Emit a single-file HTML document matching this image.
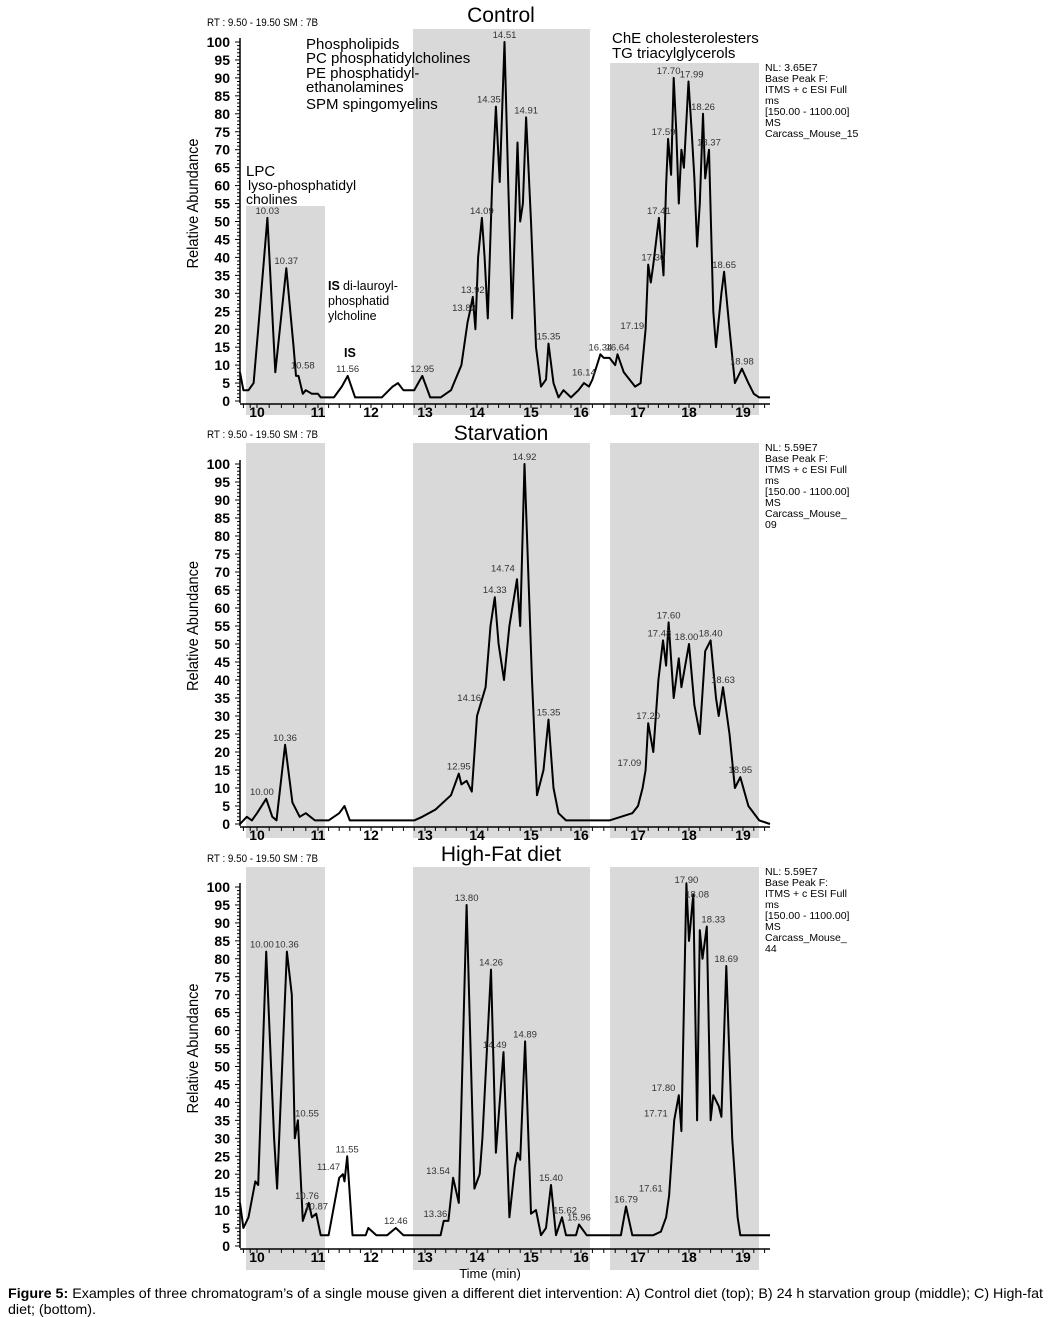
<!DOCTYPE html>
<html><head><meta charset="utf-8"><style>
html,body{margin:0;padding:0;background:#fff;}
svg{display:block;font-family:"Liberation Sans",Arial,sans-serif;}
</style></head><body>
<svg id="c" width="1051" height="1317" viewBox="0 0 1051 1317"></svg>
<script>
// ---------- data ----------
const tickTimes = [10,11,12,13,14,15,16,17,18,19];
const yTickLabels = [0,5,10,15,20,25,30,35,40,45,50,55,60,65,70,75,80,85,90,95,100];
const controlSeries = [[9.5,8],[9.6,3],[9.75,3],[9.9,5],[10.02,20],[10.17,51],[10.3,8],[10.48,37],[10.6,15],[10.64,7],[10.68,7],[10.75,2],[10.8,3],[10.9,2],[11.0,2],[11.05,1],[11.3,1],[11.45,4],[11.56,7],[11.7,1],[12,1],[12.2,1],[12.4,4],[12.5,5],[12.6,3],[12.8,3],[12.95,7],[13.1,1],[13.3,1],[13.5,3],[13.7,10],[13.82,22],[13.85,24],[13.92,29],[13.97,20],[14.02,40],[14.09,51],[14.14,40],[14.2,23],[14.28,60],[14.35,82],[14.42,61],[14.51,100],[14.58,60],[14.65,23],[14.75,72],[14.8,50],[14.85,55],[14.91,79],[15.0,50],[15.1,15],[15.2,4],[15.3,6],[15.35,16],[15.45,5],[15.55,1],[15.65,3],[15.8,1],[15.95,3],[16.05,5],[16.14,4],[16.2,6],[16.34,13],[16.4,12],[16.5,12],[16.6,10],[16.64,13],[16.75,8],[16.85,6],[16.95,4],[17.05,5],[17.15,20],[17.2,38],[17.25,33],[17.3,38],[17.41,51],[17.5,35],[17.55,60],[17.59,73],[17.65,63],[17.7,90],[17.75,75],[17.8,55],[17.85,70],[17.9,65],[17.99,89],[18.05,75],[18.1,62],[18.15,43],[18.2,55],[18.26,80],[18.3,62],[18.37,70],[18.45,25],[18.5,15],[18.6,30],[18.65,36],[18.75,20],[18.85,5],[18.98,9],[19.1,5],[19.2,2],[19.3,1],[19.5,1]];
const starvationSeries = [[9.5,0],[9.7,2],[9.85,1],[10.0,3],[10.15,7],[10.25,2],[10.32,1],[10.46,22],[10.58,6],[10.7,2],[10.8,3],[10.95,1],[11.2,1],[11.4,3],[11.5,5],[11.6,1],[12,1],[12.8,1],[12.95,2],[13.2,4],[13.5,8],[13.65,14],[13.7,11],[13.8,12],[13.9,9],[14.0,30],[14.1,35],[14.16,38],[14.25,55],[14.33,63],[14.4,50],[14.5,40],[14.6,55],[14.74,68],[14.8,55],[14.88,100],[15.02,40],[15.12,8],[15.25,15],[15.35,29],[15.45,10],[15.55,3],[15.7,1],[16,1],[16.5,1],[16.7,2],[16.9,3],[17.0,5],[17.09,10],[17.15,15],[17.2,28],[17.3,20],[17.4,40],[17.49,51],[17.55,44],[17.6,56],[17.7,35],[17.8,46],[17.85,38],[18.0,50],[18.1,33],[18.2,25],[18.3,48],[18.4,51],[18.5,35],[18.55,30],[18.63,38],[18.75,25],[18.85,10],[18.95,13],[19.1,5],[19.3,1],[19.5,0]];
const highFatSeries = [[9.5,12],[9.6,5],[9.75,8],[9.95,18],[10.02,17],[10.15,82],[10.28,30],[10.33,16],[10.49,82],[10.57,70],[10.62,30],[10.67,35],[10.75,7],[10.85,12],[10.9,8],[10.97,9],[11.05,3],[11.2,3],[11.4,19],[11.47,20],[11.5,18],[11.55,25],[11.65,3],[11.9,3],[11.95,5],[12.1,3],[12.3,3],[12.46,5],[12.6,3],[13.3,3],[13.36,7],[13.45,7],[13.54,19],[13.65,12],[13.8,95],[13.95,16],[14.05,20],[14.1,30],[14.26,77],[14.35,26],[14.49,54],[14.6,8],[14.7,22],[14.75,26],[14.8,24],[14.89,57],[15.0,9],[15.1,10],[15.2,3],[15.3,5],[15.4,17],[15.5,3],[15.62,8],[15.7,3],[15.9,3],[15.96,6],[16.1,3],[16.7,3],[16.79,11],[16.9,3],[17.3,3],[17.45,4],[17.55,8],[17.61,14],[17.71,35],[17.8,42],[17.85,32],[17.95,102],[18.0,85],[18.08,98],[18.15,35],[18.2,88],[18.25,80],[18.33,89],[18.4,35],[18.45,42],[18.55,39],[18.6,36],[18.69,78],[18.8,30],[18.9,8],[18.95,3],[19.5,3]];
const controlLabels = [[10.17,51,"10.03"],[10.48,37,"10.37"],[10.75,8,"10.58"],[11.56,7,"11.56"],[12.95,7,"12.95"],[13.75,24,"13.82"],[13.92,29,"13.92"],[14.09,51,"14.09"],[14.22,82,"14.35"],[14.51,100,"14.51"],[14.91,79,"14.91"],[15.35,16,"15.35"],[16.05,6,"16.14"],[16.34,13,"16.34"],[16.64,13,"16.64"],[16.9,19,"17.19"],[17.3,38,"17.30"],[17.41,51,"17.41"],[17.5,73,"17.59"],[17.6,90,"17.70"],[18.05,89,"17.99"],[18.26,80,"18.26"],[18.37,70,"18.37"],[18.65,36,"18.65"],[18.98,9,"18.98"]];
const starvationLabels = [[10.08,7,"10.00"],[10.46,22,"10.36"],[13.65,14,"12.95"],[13.85,33,"14.16"],[14.33,63,"14.33"],[14.48,69,"14.74"],[14.88,100,"14.92"],[15.35,29,"15.35"],[16.85,15,"17.09"],[17.2,28,"17.20"],[17.42,51,"17.48"],[17.6,56,"17.60"],[17.95,50,"18.00"],[18.4,51,"18.40"],[18.63,38,"18.63"],[18.95,13,"18.95"]];
const highFatLabels = [[10.08,82,"10.00"],[10.49,82,"10.36"],[10.82,35,"10.55"],[10.82,12,"10.76"],[10.97,9,"10.87"],[11.2,20,"11.47"],[11.55,25,"11.55"],[12.46,5,"12.46"],[13.2,7,"13.36"],[13.25,19,"13.54"],[13.8,95,"13.80"],[14.26,77,"14.26"],[14.33,54,"14.49"],[14.89,57,"14.89"],[15.4,17,"15.40"],[15.68,8,"15.62"],[15.96,6,"15.96"],[16.79,11,"16.79"],[17.25,14,"17.61"],[17.35,35,"17.71"],[17.5,42,"17.80"],[17.95,102,"17.90"],[18.15,96,"18.08"],[18.45,89,"18.33"],[18.69,78,"18.69"]];

// ---------- axes ----------
const tickPx = [257,318,371,425,477,531,581,638,689,743];
function xScale(t){
  if(t<=tickTimes[0]) return tickPx[0]+(t-tickTimes[0])*34;
  for(let i=0;i<tickTimes.length-1;i++){
    if(t<=tickTimes[i+1]) return tickPx[i]+(t-tickTimes[i])/(tickTimes[i+1]-tickTimes[i])*(tickPx[i+1]-tickPx[i]);
  }
  return tickPx[9]+(t-19)*54;
}
const NS="http://www.w3.org/2000/svg";
const svg=document.getElementById('c');
function mk(tag,attrs,parent){const e=document.createElementNS(NS,tag);for(const k in attrs)e.setAttribute(k,attrs[k]);(parent||svg).appendChild(e);return e;}

const panels=[
 {name:'control',title:'Control',series:controlSeries,labels:controlLabels,y100:42,y0:401,bands:[[246,325,206],[413,590,29],[610,759,63]],bandBot:415,titleY:22,rtY:26,nl:["NL: 3.65E7","Base Peak F:","ITMS + c ESI Full","ms","[150.00 - 1100.00]","MS","Carcass_Mouse_15"],nlY:71},
 {name:'starvation',title:'Starvation',series:starvationSeries,labels:starvationLabels,y100:464,y0:824,bands:[[246,325,443],[413,590,443],[610,759,443]],bandBot:838,titleY:440,rtY:438,nl:["NL: 5.59E7","Base Peak F:","ITMS + c ESI Full","ms","[150.00 - 1100.00]","MS","Carcass_Mouse_","09"],nlY:451},
 {name:'high-fat',title:'High-Fat diet',series:highFatSeries,labels:highFatLabels,y100:887,y0:1246,bands:[[246,325,867],[413,590,867],[610,759,867]],bandBot:1270,titleY:861,rtY:862,nl:["NL: 5.59E7","Base Peak F:","ITMS + c ESI Full","ms","[150.00 - 1100.00]","MS","Carcass_Mouse_","44"],nlY:875}
];

panels.forEach(p=>{
  const g=mk('g',{});
  
  
  const ys=v=>p.y0-(v/100)*(p.y0-p.y100);
  p.bands.forEach((b,i)=>{
    const r=mk('rect',{x:b[0],y:b[2],width:b[1]-b[0],height:p.bandBot-b[2],fill:'#d9d9d9'},g);
    
    
  });
  const t=mk('text',{x:501,y:p.titleY,'font-size':21,'text-anchor':'middle',fill:'#000'},g);
  t.textContent=p.title;
  
  
  const rt=mk('text',{x:207,y:p.rtY,'font-size':11,fill:'#000',textLength:111,lengthAdjust:'spacingAndGlyphs'},g);
  rt.textContent='RT : 9.50 - 19.50 SM : 7B';
  
  
  // y axis
  const ax=mk('line',{x1:240,y1:p.y100-4,x2:240,y2:p.y0+2,stroke:'#000','stroke-width':1.5},g);
  
  
  for(let v=0;v<=100;v+=1){
    const yy=ys(v);
    mk('line',{x1:v%5===0?235:237,y1:yy,x2:240,y2:yy,stroke:'#000','stroke-width':1},g);
  }
  yTickLabels.forEach(v=>{
    const tl=mk('text',{x:230,y:ys(v)+5,'font-size':14,'font-weight':'bold','text-anchor':'end'},g);
    tl.textContent=v;
    
    
  });
  const yt=mk('text',{x:0,y:0,'font-size':16,'text-anchor':'middle',transform:`translate(198,${(p.y0+p.y100)/2-18}) rotate(-90)`,textLength:130,lengthAdjust:'spacingAndGlyphs'},g);
  yt.textContent='Relative Abundance';
  
  
  // x axis
  const xa=mk('line',{x1:240,y1:p.y0+3,x2:770,y2:p.y0+3,stroke:'#000','stroke-width':1.5},g);
  
  
  for(let t2=9.6;t2<=19.45;t2+=0.2){
    const xx=xScale(t2);
    mk('line',{x1:xx,y1:p.y0+3,x2:xx,y2:p.y0+7,stroke:'#000','stroke-width':1},g);
  }
  tickTimes.forEach(tv=>{
    const xt=mk('text',{x:xScale(tv),y:p.y0+16,'font-size':14,'font-weight':'bold','text-anchor':'middle'},g);
    xt.textContent=tv;
    
    
  });
  // trace
  const d=p.series.map((pt,i)=>(i?'L':'M')+xScale(pt[0]).toFixed(1)+','+ys(Math.min(pt[1],101)).toFixed(1)).join(' ');
  const path=mk('path',{d:d,fill:'none',stroke:'#000','stroke-width':2,'stroke-linejoin':'round'},g);
  
  
  // peak labels
  p.labels.forEach(l=>{
    const lt=mk('text',{x:xScale(l[0]),y:ys(Math.min(l[1],100))-4,'font-size':9.5,'text-anchor':'middle',fill:'#333'},g);
    lt.textContent=l[2];
    
    
  });
  // NL info
  p.nl.forEach((s,i)=>{
    const nt=mk('text',{x:765,y:p.nlY+i*11,'font-size':10.5},g);
    nt.textContent=s;
    
    
  });
});

// annotations (control panel)
const annots=[
 [306,49,15,"Phospholipids"],[306,63,15,"PC phosphatidylcholines"],[306,78,15,"PE phosphatidyl-"],[306,92,15,"ethanolamines"],[306,109,15,"SPM spingomyelins"],
 [612,43,15,"ChE cholesterolesters"],[612,58,15,"TG triacylglycerols"],
 [246,176,15,"LPC"],[248,190,14,"lyso-phosphatidyl"],[246,204,14,"cholines"],
 [343,290,12.5,"di-lauroyl-"],[328,305,12.5,"phosphatid"],[328,320,12.5,"ylcholine"]
];
annots.forEach(a=>{
  const e=mk('text',{x:a[0],y:a[1],'font-size':a[2]});
  e.textContent=a[3];
  
  
});
[[328,290,"IS"],[344,357,"IS"]].forEach(a=>{
  const e=mk('text',{x:a[0],y:a[1],'font-size':12.5,'font-weight':'bold'});
  e.textContent=a[2];
  
  
});

const xt=mk('text',{x:490,y:1278,'font-size':13,'text-anchor':'middle'});
xt.textContent='Time (min)';



const cap=mk('text',{x:8,y:1298,'font-size':14,textLength:1035,lengthAdjust:'spacingAndGlyphs'});


const b=mk('tspan',{'font-weight':'bold'},cap);b.textContent='Figure 5:';
const r=mk('tspan',{},cap);r.textContent=' Examples of three chromatogram’s of a single mouse given a different diet intervention: A) Control diet (top); B) 24 h starvation group (middle); C) High-fat';
const cap2=mk('text',{x:8,y:1314,'font-size':14,textLength:88,lengthAdjust:'spacingAndGlyphs'});
cap2.textContent='diet; (bottom).';


</script>
</body></html>
